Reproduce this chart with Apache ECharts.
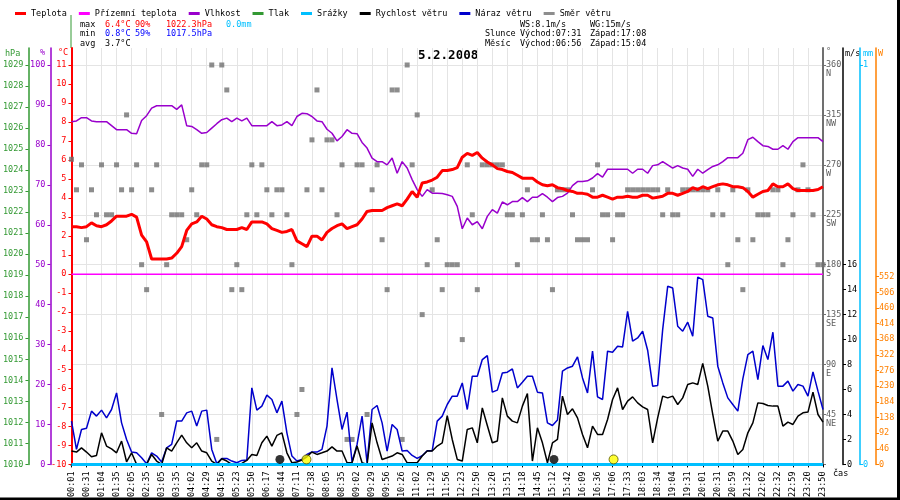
<!DOCTYPE html>
<html>
<head>
<meta charset="utf-8">
<script src="https://cdn.jsdelivr.net/npm/echarts@6/dist/echarts.min.js"></script>
<style>
html, body { margin: 0; padding: 0; background: #fff; }
#chart { width: 900px; height: 500px; }
</style>
</head>
<body>
<div id="chart"></div>
<script>
// time labels, one every 3 samples
var timeTicks = ['00:01','00:31','01:04','01:35','02:05','02:35','03:05','03:35','04:02','04:29',
  '04:56','05:23','05:50','06:17','06:44','07:11','07:38','08:05','08:35','09:02',
  '09:29','09:56','10:26','11:02','11:29','11:56','12:23','12:50','13:20','13:51',
  '14:18','14:45','15:12','15:42','16:09','16:36','17:06','17:33','18:03','18:34',
  '19:04','19:31','20:01','20:31','20:59','21:32','22:02','22:32','22:59','23:20','23:50'];

// samples (151)
var temp = [2.5,2.5,2.45,2.5,2.7,2.55,2.5,2.6,2.8,3.05,
  3.05,3.05,3.15,3.0,2.05,1.7,0.8,0.8,0.8,0.8,
  0.85,1.1,1.45,2.3,2.65,2.75,3.05,2.9,2.6,2.5,
  2.45,2.35,2.35,2.35,2.45,2.35,2.75,2.75,2.75,2.65,
  2.4,2.3,2.2,2.25,2.35,1.75,1.6,1.45,2.0,2.0,
  1.8,2.2,2.4,2.55,2.65,2.4,2.5,2.6,2.9,3.3,
  3.35,3.35,3.35,3.5,3.6,3.7,3.6,3.95,4.35,4.05,
  4.8,4.85,4.95,5.1,5.45,5.45,5.5,5.6,6.15,6.35,
  6.25,6.4,6.1,5.9,5.75,5.55,5.5,5.4,5.35,5.2,
  5.05,5.05,5.05,4.85,4.7,4.65,4.7,4.55,4.5,4.4,
  4.35,4.25,4.25,4.2,4.05,4.05,4.15,4.05,3.95,4.05,
  4.05,4.1,4.05,4.05,4.15,4.15,4.0,4.05,4.1,4.25,
  4.25,4.15,4.25,4.35,4.55,4.45,4.6,4.5,4.6,4.7,
  4.75,4.7,4.6,4.6,4.55,4.35,4.05,4.2,4.35,4.4,
  4.75,4.6,4.6,4.75,4.5,4.4,4.4,4.4,4.4,4.45,
  4.6];

var humidity = [85.8,86,86.8,86.8,86,85.8,85.8,85.8,84.8,83.8,
  83.8,83.8,82.9,82.8,86.1,87.3,89.2,89.8,89.8,89.8,
  89.8,88.9,90,84.8,84.6,83.8,82.9,83.1,84.2,85.3,
  86.3,86.7,85.8,86.7,86,86.7,84.8,84.8,84.8,84.8,
  85.8,84.8,85,85.8,84.8,87.1,87.9,87.8,87.1,86,
  85.8,83.9,82.9,81,82.1,83.8,82.9,82.8,80.6,79.2,
  76.7,75.8,75.8,75,76.7,72.9,75.8,74.2,71.3,68.8,
  67.1,68.8,67.9,67.9,67.8,67.5,67.1,64.6,59,61.7,
  60,60.8,59,62.1,63.8,62.9,65.7,65,65.8,65.8,
  66.8,65.8,66.9,66.9,67.8,66.9,65.8,66.8,67.1,67.9,
  69.8,70.8,70.8,71,71.7,72.8,71.9,73.9,73.9,73.9,
  73.9,73.9,72.9,73.9,73.9,72.9,74.8,75,75.8,75,
  74.2,74.8,74.2,73.9,72.1,73.9,72.9,73.8,74.6,75,
  75.8,76.8,76.8,76.8,77.9,81.3,81.9,80.8,79.8,79.6,
  78.9,78.9,79.8,78.9,80.8,81.8,81.8,81.8,81.8,81.8,
  80.8];

var windSpeed = [1.07,0.99,1.33,0.99,0.61,0.72,2.53,1.47,1.25,0.93,
  1.87,0.21,0.93,0,0,0,0.8,0.27,0,1.33,
  1.07,1.73,2.35,1.73,1.33,1.73,1.07,0.93,0.27,0,
  0.45,0.27,0,0,0.08,0.32,0.8,0.72,1.73,2.27,
  1.47,2.32,2.53,0.93,0.13,0.19,0.35,0.61,0.99,0.8,
  0.93,1.07,1.41,1.07,1.07,0.13,0.13,1.47,0.13,0,
  3.33,1.73,0.4,0.53,0.67,0.93,0.8,0.13,0.13,0.13,
  0.67,1.07,1.07,1.47,1.73,3.9,2.0,0.4,0.27,2.8,
  2.93,1.73,4.53,3.12,1.73,1.87,5.33,3.87,3.47,3.33,
  4.67,5.68,0.27,2.93,1.73,0.13,1.73,2.0,5.47,4.0,
  4.45,3.73,2.4,1.33,3.07,2.4,2.4,3.6,5.2,6.13,
  4.4,5.07,5.41,4.93,4.61,4.4,1.73,3.73,5.47,5.33,
  5.47,4.8,5.33,6.4,6.53,6.4,8.1,6.27,4.0,1.87,
  2.67,2.67,1.87,0.8,1.2,2.53,3.33,4.93,4.88,4.72,
  4.67,4.67,3.07,3.39,3.2,3.87,4.13,4.19,5.79,4.0,
  3.39];

var windGust = [3.47,1.2,2.8,2.9,4.27,3.87,4.35,3.73,4.4,5.73,
  3.33,2.0,0.99,0.93,0.53,0.05,0.93,0.67,0.19,1.33,
  1.6,3.47,3.47,4.13,4.27,3.07,4.27,4.35,1.2,0.08,
  0.48,0.48,0.27,0.13,0.32,0.35,6.13,4.35,4.67,5.55,
  5.2,4.13,5.07,2.53,0.67,0.27,0.4,0.8,1.0,0.99,
  1.2,3.07,7.73,5.2,2.8,4.19,0.19,1.6,3.87,0.13,
  4.4,4.72,3.33,1.07,3.2,2.8,1.07,1.12,0.72,0.48,
  0.7,1.1,1.1,3.47,3.87,4.8,5.47,5.47,6.53,4.4,
  7.07,7.07,8.4,8.72,5.79,5.95,7.33,7.39,7.65,6.13,
  6.59,7.07,7.07,5.79,5.73,3.33,3.12,3.55,7.47,7.73,
  7.87,8.61,6.93,5.73,9.07,5.41,5.2,9.07,8.99,9.47,
  9.41,12.27,9.87,10.13,10.67,9.15,6.27,6.32,10.8,14.27,
  14.13,11.07,10.67,11.39,10.27,15.0,14.8,11.87,11.73,7.87,
  6.53,5.33,4.8,4.27,6.85,8.8,9.07,6.8,9.52,8.4,
  10.59,6.27,6.27,6.67,5.87,6.4,6.27,5.47,7.41,5.87,
  4.4];

var windDir = [275,247.5,270,202.5,247.5,225,270,225,225,270,
  247.5,315,247.5,270,180,157.5,247.5,270,45,180,
  225,225,225,202.5,247.5,225,270,270,360,22.5,
  360,337.5,157.5,180,157.5,225,270,225,270,247.5,
  225,247.5,247.5,225,180,45,67.5,247.5,292.5,337.5,
  247.5,292.5,292.5,225,270,22.5,22.5,270,270,45,
  247.5,270,202.5,157.5,337.5,337.5,22.5,360,270,315,
  135,180,247.5,202.5,157.5,180,180,180,112.5,270,
  225,157.5,270,270,270,270,270,225,225,180,
  225,247.5,202.5,202.5,225,202.5,157.5,247.5,247.5,247.5,
  225,202.5,202.5,202.5,247.5,270,225,225,202.5,225,
  225,247.5,247.5,247.5,247.5,247.5,247.5,247.5,225,247.5,
  225,225,247.5,247.5,247.5,247.5,247.5,247.5,225,247.5,
  225,180,247.5,202.5,157.5,247.5,202.5,225,225,225,
  247.5,247.5,180,202.5,225,247.5,270,247.5,225,180,
  180];

// flat series: ground temperature and rain, start and end sample
var flatAt = [0, 150];
var groundTemp = [0, 0];
var rain = [0, 0];
var pressure = [];

// sun / moon rise and set markers, in samples
var sunMoonAt = [41.6, 46.9, 96.3, 108.2];
var sunMoonBody = ['moon', 'sun', 'moon', 'sun'];

// axis tick labels
var tempTicks = [-10,-9,-8,-7,-6,-5,-4,-3,-2,-1,0,1,2,3,4,5,6,7,8,9,10,11];
var humTicks = [0,10,20,30,40,50,60,70,80,90,100];
var hpaTicks = [1010,1011,1012,1013,1014,1015,1016,1017,1018,1019,1020,1021,1022,1023,1024,1025,1026,1027,1028,1029];
var dirTicks = [0,45,90,135,180,225,270,315,360];
var dirNames = ['', 'NE', 'E', 'SE', 'S', 'SW', 'W', 'NW', 'N'];
var msTicks = [0,2,4,6,8,10,12,14,16];
var mmTicks = [0,1];
var wTicks = [0,46,92,138,184,230,276,322,368,414,460,506,552];

var FONT = '"DejaVu Sans Mono", monospace';
var FS = 8.5;
var RED = '#ff0000', PURPLE = '#9900cc', GREEN = '#339933', CYAN = '#00bfff',
    BLUE = '#0000cc', GRAY = '#707070', ORANGE = '#ff8000', MAGENTA = '#ff00ff';

// the top label of each left/right axis sits 17px under the grid top
function axisTop(min, labelTop) { return min + (labelTop - min) * 417 / 400; }

function pairs(arr) { return arr.map(function (v, k) { return [k, v]; }); }
function flat(arr) { return arr.map(function (v, i) { return [flatAt[i], v]; }); }
function plain(v) { return String(v); }

function yAx(o) {
  return {
    type: 'value', position: o.pos, offset: o.off, min: o.min, max: o.max, interval: o.step,
    axisLine: { show: true, onZero: false, lineStyle: { color: o.color, width: o.lw || 1.5 } },
    axisTick: { show: true, length: 3, customValues: o.ticks, lineStyle: { color: o.color } },
    axisLabel: { customValues: o.labels || o.ticks, margin: o.margin, color: o.tcolor || o.color,
      fontFamily: FONT, fontSize: FS, formatter: o.fmt || plain, lineHeight: 9 },
    splitLine: o.split ? { show: true, lineStyle: { color: '#e4e4e4' } } : { show: false }
  };
}

var chart = echarts.init(document.getElementById('chart'));

function txt(x, y, s, color, font) {
  return { type: 'text', x: x, y: y, silent: true,
    style: { text: s, fill: color || '#000', font: font || (FS + 'px ' + FONT), textVerticalAlign: 'middle' } };
}

var option = {
  animation: false,
  backgroundColor: '#fff',
  legend: {
    left: 10, top: 4, icon: 'rect', itemWidth: 11, itemHeight: 3, itemGap: 12,
    textStyle: { fontFamily: FONT, fontSize: FS, color: '#000' },
    data: ['Teplota', 'Přízemní teplota', 'Vlhkost', 'Tlak', 'Srážky', 'Rychlost větru', 'Náraz větru', 'Směr větru']
  },
  grid: { left: 71, right: 77, top: 48, bottom: 35 },
  xAxis: {
    type: 'value', min: 0, max: 150, interval: 3,
    axisLine: { onZero: false, lineStyle: { color: '#000', width: 2 } },
    axisTick: { length: 3, lineStyle: { color: '#000' } },
    axisLabel: { rotate: 90, margin: 7, fontFamily: FONT, fontSize: FS, color: '#000',
      formatter: function (v) { return timeTicks[Math.round(v / 3)] || ''; } },
    splitLine: { show: true, lineStyle: { color: '#e4e4e4' } }
  },
  yAxis: [
    yAx({ pos: 'left', off: 0, min: -10, max: axisTop(-10, 11), step: 1, ticks: tempTicks, color: RED, lw: 2, margin: 5 }),
    yAx({ pos: 'left', off: 21, min: 0, max: axisTop(0, 100), step: 10, ticks: humTicks, color: PURPLE, margin: 5 }),
    yAx({ pos: 'left', off: 43, min: 1010, max: axisTop(1010, 1029), step: 1, ticks: hpaTicks, color: GREEN, margin: 5 }),
    yAx({ pos: 'right', off: 0, min: 0, max: axisTop(0, 360), step: 45, ticks: dirTicks, labels: dirTicks.slice(1),
      color: GRAY, lw: 2, tcolor: '#606060', margin: 3, split: true,
      fmt: function (v) { return '\n' + v + '\n' + dirNames[dirTicks.indexOf(v)]; } }),
    yAx({ pos: 'right', off: 20, min: 0, max: axisTop(0, 32), step: 2, ticks: msTicks, color: '#000', margin: 4 }),
    yAx({ pos: 'right', off: 37, min: 0, max: axisTop(0, 1), step: 1, ticks: mmTicks, color: CYAN, margin: 3 }),
    // 552 W is drawn 188px above the base, 46 W per step
    yAx({ pos: 'right', off: 53, min: 0, max: axisTop(0, 552 * 400 / 188), step: 46, ticks: wTicks, color: ORANGE, margin: 3 })
  ],
  series: [
    { name: 'Směr větru', type: 'scatter', yAxisIndex: 3, symbol: 'rect', symbolSize: 5,
      itemStyle: { color: GRAY }, data: pairs(windDir) },
    { name: 'Vlhkost', type: 'line', yAxisIndex: 1, symbol: 'none', color: PURPLE,
      lineStyle: { color: PURPLE, width: 1.5 }, data: pairs(humidity) },
    { name: 'Tlak', type: 'line', yAxisIndex: 2, symbol: 'none', color: GREEN,
      lineStyle: { color: GREEN, width: 1.5 }, data: pressure },
    { name: 'Přízemní teplota', type: 'line', yAxisIndex: 0, symbol: 'none', color: MAGENTA,
      lineStyle: { color: MAGENTA, width: 1.5 }, data: flat(groundTemp) },
    { name: 'Náraz větru', type: 'line', yAxisIndex: 4, symbol: 'none', color: BLUE,
      lineStyle: { color: BLUE, width: 1.5 }, data: pairs(windGust) },
    { name: 'Rychlost větru', type: 'line', yAxisIndex: 4, symbol: 'none', color: '#000',
      lineStyle: { color: '#000', width: 1.5 }, data: pairs(windSpeed) },
    { name: 'Srážky', type: 'line', yAxisIndex: 5, symbol: 'none', color: CYAN,
      lineStyle: { color: CYAN, width: 3 }, data: flat(rain) },
    { name: 'Teplota', type: 'line', yAxisIndex: 0, symbol: 'none', color: RED,
      lineStyle: { color: RED, width: 3 }, data: pairs(temp) },
    { type: 'scatter', yAxisIndex: 4, symbol: 'circle', symbolSize: 9, z: 5,
      data: sunMoonAt.map(function (k, i) {
        return { value: [k, 0.4], itemStyle: sunMoonBody[i] === 'sun'
          ? { color: '#ffff00', borderColor: '#555500', borderWidth: 1 }
          : { color: '#000' } };
      }) }
  ],
  graphic: [
    { type: 'rect', shape: { x: 897, y: 0, width: 3, height: 500 }, style: { fill: '#000' }, silent: true },
    { type: 'rect', shape: { x: 0, y: 497.5, width: 900, height: 2.5 }, style: { fill: '#000' }, silent: true },
    { type: 'line', shape: { x1: 71, y1: 15, x2: 71, y2: 48 }, style: { stroke: GREEN, lineWidth: 1 }, silent: true },
    txt(418, 56, '5.2.2008', '#000', 'bold 12.5px ' + FONT),
    txt(80, 24.5, 'max'), txt(105, 24.5, '6.4°C', RED), txt(135, 24.5, '90%', RED),
    txt(166, 24.5, '1022.3hPa', RED), txt(226, 24.5, '0.0mm', CYAN),
    txt(80, 34, 'min'), txt(105, 34, '0.8°C', '#0000ff'), txt(135, 34, '59%', '#0000ff'),
    txt(166, 34, '1017.5hPa', '#0000ff'),
    txt(80, 44, 'avg'), txt(105, 44, '3.7°C'),
    txt(520, 24.5, 'WS:8.1m/s'), txt(590, 24.5, 'WG:15m/s'),
    txt(485, 34, 'Slunce'), txt(520, 34, 'Východ:07:31'), txt(590, 34, 'Západ:17:08'),
    txt(485, 44, 'Měsíc'), txt(520, 44, 'Východ:06:56'), txt(590, 44, 'Západ:15:04'),
    txt(5, 54, 'hPa', GREEN), txt(40, 53, '%', PURPLE), txt(58, 53, '°C', RED),
    txt(826, 52, '°', '#606060'), txt(845, 54, 'm/s', '#000'), txt(863, 54, 'mm', CYAN),
    txt(878, 54, 'W', ORANGE), txt(833, 474, 'čas', '#000')
  ]
};

chart.setOption(option);
</script>
</body>
</html>
